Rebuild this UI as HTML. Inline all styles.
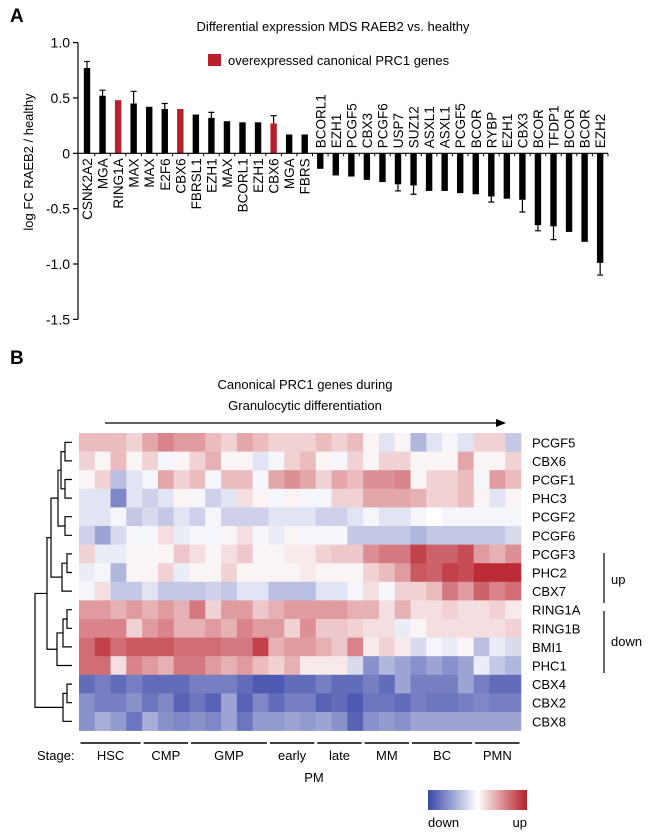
<!DOCTYPE html>
<html><head><meta charset="utf-8">
<style>
html,body{margin:0;padding:0;background:#fff;}
svg{display:block;font-family:"Liberation Sans",Arial,sans-serif;}
</style></head>
<body>
<svg id="fig" width="650" height="837" viewBox="0 0 650 837">
<defs>
<linearGradient id="cb" x1="0" x2="1" y1="0" y2="0">
<stop offset="0" stop-color="#3a48a8"/><stop offset="0.5" stop-color="#ffffff"/><stop offset="1" stop-color="#b8202a"/>
</linearGradient>
</defs>
<text x="10" y="22" font-size="19" font-weight="bold">A</text>
<text x="333" y="31" font-size="13" text-anchor="middle">Differential expression MDS RAEB2 vs. healthy</text>
<rect x="208" y="54" width="13" height="12" fill="#b8202a"/>
<text x="228" y="65" font-size="13">overexpressed canonical PRC1 genes</text>
<text transform="translate(33,162) rotate(-90)" font-size="13" text-anchor="middle">log  FC RAEB2 / healthy</text>
<g id="barChart"></g>

<text x="10" y="364" font-size="19" font-weight="bold">B</text>
<text x="305" y="389" font-size="13" text-anchor="middle">Canonical PRC1 genes during</text>
<text x="305" y="410" font-size="13" text-anchor="middle">Granulocytic differentiation</text>
<g>
<line x1="105" y1="423" x2="498" y2="423" stroke="#000" stroke-width="1.2"/>
<polygon points="506,423 496,419 496,427" fill="#000"/>
</g>
<g id="heat"></g>
<g id="dendro" stroke="#000" stroke-width="1.2" fill="none"></g>
<g id="rowlabels"></g>
<g><line x1="604" y1="553" x2="604" y2="603" stroke="#000" stroke-width="1.2"/><text x="611" y="584" font-size="13">up</text></g>
<g><line x1="604" y1="611" x2="604" y2="673" stroke="#000" stroke-width="1.2"/><text x="611" y="646" font-size="13">down</text></g>
<g id="stages"></g>
<text x="37" y="760" font-size="13">Stage:</text>
<text x="314" y="782" font-size="13" text-anchor="middle">PM</text>
<rect x="428" y="790" width="99" height="20" fill="url(#cb)"/>
<text x="428" y="827" font-size="13">down</text>
<text x="527" y="827" font-size="13" text-anchor="end">up</text>
</svg>
<script>
const NS="http://www.w3.org/2000/svg";
// ---- bar chart data ----
const barGenes=["CSNK2A2","MGA","RING1A","MAX","MAX","E2F6","CBX6","FBRSL1","EZH1","MAX","BCORL1","EZH1","CBX6","MGA","FBRS","BCORL1","EZH1","PCGF5","CBX3","PCGF6","USP7","SUZ12","ASXL1","ASXL1","PCGF5","BCOR","RYBP","EZH1","CBX3","BCOR","TFDP1","BCOR","BCOR","EZH2"];
const barValues=[0.77,0.52,0.48,0.45,0.42,0.40,0.40,0.35,0.32,0.29,0.28,0.28,0.27,0.17,0.17,-0.14,-0.20,-0.21,-0.24,-0.26,-0.28,-0.29,-0.34,-0.34,-0.36,-0.37,-0.39,-0.41,-0.42,-0.65,-0.66,-0.71,-0.80,-0.99];
const barErrors=[0.06,0.05,0,0.11,0,0.05,0,0,0.05,0,0,0,0.07,0,0,0,0,0,0,0,0.06,0.08,0,0,0,0,0.05,0,0.11,0.05,0.12,0,0,0.11];
const redBars=[2,6,12];
const yTicks=[1.0,0.5,0,-0.5,-1.0,-1.5];
const yTickLabels=["1.0","0.5","0","-0.5","-1.0","-1.5"];
function el(tag,attrs,parent){const e=document.createElementNS(NS,tag);for(const k in attrs)e.setAttribute(k,attrs[k]);parent.appendChild(e);return e;}
const bc=document.getElementById('barChart');
const Y=v=>153.3-v*110.7;
const X=i=>87+i*15.55;
const ax=el('line',{x1:78,y1:Y(1),x2:78,y2:Y(-1.5),stroke:'#000','stroke-width':1.2},bc);


yTicks.forEach((t,i)=>{
  const tk=el('line',{x1:73,x2:78,y1:Y(t),y2:Y(t),stroke:'#000','stroke-width':1.2},bc);
  
  
  const tl=el('text',{x:70,y:Y(t)+5,'font-size':14,'text-anchor':'end'},bc);
  tl.textContent=yTickLabels[i];
  
  
});
barValues.forEach((v,i)=>{
  const x=X(i),w=6.4;
  const col=redBars.includes(i)?'#b8202a':'#000';
  const r=el('rect',{x:x-w/2,y:Math.min(Y(v),Y(0)),width:w,height:Math.abs(Y(v)-Y(0)),fill:col},bc);
  
  
  if(barErrors[i]>0){
    const e=v+(v>=0?barErrors[i]:-barErrors[i]);
    const eb=el('path',{d:`M${x} ${Y(v)}V${Y(e)}M${x-3} ${Y(e)}H${x+3}`,stroke:'#000','stroke-width':1.2,fill:'none'},bc);
    
    
  }
  const t=el('text',{'font-size':13.5},bc);
  if(v>=0){t.setAttribute('transform',`translate(${x+5},${Y(0)+5}) rotate(-90)`);t.setAttribute('text-anchor','end');}
  else{t.setAttribute('transform',`translate(${x+5},${Y(0)-5}) rotate(-90)`);t.setAttribute('text-anchor','start');}
  t.textContent=barGenes[i];
  
  
});
const zl=el('line',{x1:78,x2:608,y1:Y(0),y2:Y(0),stroke:'#000','stroke-width':1.2},bc);


for(let i=0;i<barValues.length;i++){
  const tk=el('line',{x1:X(i)+7.8,x2:X(i)+7.8,y1:Y(0),y2:Y(0)+3,stroke:'#000','stroke-width':1},bc);
  
  
}

// ---- heatmap data ----
const rowGenes=["PCGF5","CBX6","PCGF1","PHC3","PCGF2","PCGF6","PCGF3","PHC2","CBX7","RING1A","RING1B","BMI1","PHC1","CBX4","CBX2","CBX8"];
const stageNames=["HSC","CMP","GMP","early","late","MM","BC","PMN"];
const stageCols=[4,3,5,3,3,3,4,3];
const heatRows=[
[.3,.3,.3,.2,.4,.55,.45,.45,.3,.2,.4,.3,.2,.2,.2,.3,.2,.3,.05,-.15,.05,-.4,-.15,-.05,-.15,.2,.2,-.3],
[.2,.05,.3,.05,.2,-.05,.05,.2,.35,.05,.05,-.15,-.05,.2,.3,.05,-.05,.2,.05,.2,.2,.05,.05,.05,.4,.05,.05,.2],
[.05,.2,-.35,-.15,-.05,.4,.2,.3,-.05,.3,.3,-.05,.4,.5,.4,.2,.4,.3,.5,.5,.55,.05,.2,.2,.3,-.05,.45,.3],
[-.15,-.15,-.65,-.15,-.25,-.15,.05,-.05,-.25,-.15,.15,.05,-.05,.05,-.05,-.05,.2,.2,.4,.4,.4,.35,.2,.2,.3,.05,-.15,.05],
[-.15,-.15,-.05,-.3,-.2,-.3,-.15,-.25,-.05,-.25,-.25,-.25,-.15,-.15,-.15,-.25,-.25,-.15,-.05,-.15,-.15,-.05,0,-.05,-.05,-.05,-.05,-.05],
[-.25,-.5,-.2,-.05,-.05,.15,-.1,-.05,-.05,.05,.15,-.05,-.1,.05,-.05,-.05,-.05,-.3,-.3,-.3,-.3,-.4,-.3,-.3,-.3,-.3,-.3,-.2],
[.2,-.1,-.1,.05,.05,.05,.25,.15,.05,.15,.25,.05,.05,.1,.1,.2,.25,.25,.5,.6,.6,.85,.7,.7,.8,.45,.35,.5],
[-.1,-.05,-.4,.05,.05,.2,-.1,.05,.05,.2,.05,.05,.05,.05,.1,.05,.05,.05,.2,.3,.45,.75,.7,.85,.8,.95,.95,.95],
[-.05,.15,-.3,-.3,-.15,-.3,-.3,-.3,-.25,-.3,-.15,-.15,-.35,-.35,-.35,-.15,-.15,-.05,.15,-.05,.2,.2,.3,.6,.45,.7,.55,.65],
[.45,.45,.35,.45,.35,.45,.35,.6,.2,.45,.45,.25,.35,.45,.45,.45,.45,.35,.35,.15,.35,.15,.15,.2,.15,.15,.2,.1],
[.55,.55,.55,.2,.45,.55,.35,.35,.45,.35,.55,.45,.45,.2,.5,.25,.25,.2,.15,.15,-.1,.05,.15,.15,.15,.15,.15,.2],
[.65,.85,.65,.75,.75,.75,.65,.65,.65,.6,.6,.85,.35,.45,.45,.35,.25,.55,.1,.2,.1,-.2,-.05,-.1,.05,-.35,-.1,-.2],
[.65,.65,.15,.55,.45,.35,.6,.6,.45,.35,.45,.3,.2,.35,.1,.1,.1,-.2,-.6,-.4,-.5,-.6,-.5,-.6,-.5,-.1,-.3,-.4],
[-.8,-.7,-.8,-.7,-.8,-.8,-.8,-.7,-.7,-.7,-.8,-.9,-.9,-.8,-.8,-.7,-.8,-.8,-.7,-.8,-.5,-.7,-.7,-.7,-.5,-.7,-.8,-.8],
[-.6,-.7,-.7,-.6,-.75,-.65,-.85,-.75,-.85,-.5,-.85,-.65,-.8,-.7,-.7,-.85,-.8,-.9,-.75,-.75,-.8,-.7,-.75,-.75,-.7,-.65,-.7,-.7],
[-.6,-.45,-.55,-.75,-.45,-.6,-.65,-.6,-.65,-.5,-.75,-.55,-.55,-.5,-.55,-.5,-.6,-.85,-.6,-.55,-.6,-.5,-.5,-.5,-.5,-.5,-.5,-.5]
];
const HX0=79,HY0=433,CW=442/28,RH=18.6;
function heatColor(v){
  const w=[255,255,255],b=[58,72,168],r=[184,32,42];
  const t=Math.min(1,Math.abs(v)),c=v<0?b:r;
  return `rgb(${w.map((x,i)=>Math.round(x+(c[i]-x)*t)).join(',')})`;
}
const hg=document.getElementById('heat');
heatRows.forEach((row,ri)=>row.forEach((v,ci)=>{
  const c=el('rect',{x:HX0+ci*CW,y:HY0+ri*RH,width:CW+0.3,height:RH+0.3,fill:heatColor(v)},hg);
  
  
}));
const rl=document.getElementById('rowlabels');
rowGenes.forEach((g,i)=>{
  const t=el('text',{x:532,y:HY0+(i+0.5)*RH+5,'font-size':13},rl);
  t.textContent=g;
  
  
});
const dg=document.getElementById('dendro');
const ry=i=>HY0+(i+0.5)*RH;
function mkNode(a,b,x){return {y:(a.y+b.y)/2,x,a,b};}
function mkLeaf(i){return {y:ry(i),x:72,leaf:true};}
function drawNode(n){
  if(n.leaf)return;
  drawNode(n.a);drawNode(n.b);
  const p=el('path',{d:`M${n.a.x} ${n.a.y}H${n.x}V${n.b.y}H${n.b.x}`},dg);
  
  
}
const Lf=mkLeaf;
const grp1=mkNode(mkNode(mkNode(Lf(0),Lf(1),65),mkNode(Lf(2),Lf(3),65),61),mkNode(Lf(4),Lf(5),65),58);
const grp2=mkNode(mkNode(Lf(6),Lf(7),67),Lf(8),62);
const grp12=mkNode(grp1,grp2,51);
const grp3=mkNode(mkNode(mkNode(Lf(9),Lf(10),67),Lf(11),63),Lf(12),57);
const topNode=mkNode(grp12,grp3,47);
const grp4=mkNode(mkNode(Lf(13),Lf(14),67),Lf(15),63);
const rootNode=mkNode(topNode,grp4,35);
drawNode(rootNode);
const sg=document.getElementById('stages');
let c0=0;
stageNames.forEach((s,i)=>{
  const x1=HX0+c0*CW+1.5,x2=HX0+(c0+stageCols[i])*CW-1.5;
  const ln=el('line',{x1,x2,y1:743,y2:743,stroke:'#000','stroke-width':1.4},sg);
  
  
  const t=el('text',{x:(x1+x2)/2,y:760,'font-size':13,'text-anchor':'middle'},sg);
  t.textContent=s;
  
  
  c0+=stageCols[i];
});
</script>
</body></html>
